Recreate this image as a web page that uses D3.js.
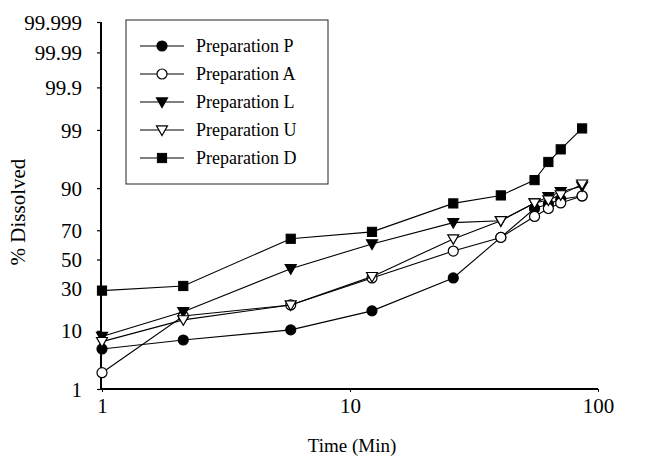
<!DOCTYPE html>
<html>
<head>
<meta charset="utf-8">
<script src="https://cdn.jsdelivr.net/npm/d3@7"></script>
<style>
  html, body { margin: 0; padding: 0; background: #fff; }
  svg { display: block; }
  text { font-family: "Liberation Serif", "Times New Roman", serif; fill: #000; }
</style>
</head>
<body>
<svg id="chart" width="659" height="466"></svg>
<script>
// ---- data ----
const times = [1, 2, 5, 10, 20, 30, 40, 45, 50, 60];
const seriesNames = ["Preparation P", "Preparation A", "Preparation L", "Preparation U", "Preparation D"];
const prepP = [5.4, 7.4, 10.3, 17.8, 37, 65.4, 82, 84, 86, 87.3];
const prepA = [2.1, 15.5, 20.7, 37, 56, 65.4, 78, 82, 84.5, 87.3];
const prepL = [8.3, 17.4, 43.4, 61, 74.6, 75.7, 84.5, 87, 88.8, 90.6];
const prepU = [7.0, 13.9, 20.7, 37.9, 64.4, 75.7, 84.5, 85.7, 87.7, 91.2];
const prepD = [28.8, 31.7, 64.5, 69, 84.3, 87.5, 92.3, 96, 97.6, 99.07];
const yTickValues = [1, 10, 30, 50, 70, 90, 99, 99.9, 99.99, 99.999];
const yTickLabels = ["1", "10", "30", "50", "70", "90", "99", "99.9", "99.99", "99.999"];
const xTickValues = [1, 10, 100];
const markerTypes = ["filledCircle", "openCircle", "filledTriDown", "openTriDown", "filledSquare"];

const seriesValues = [prepP, prepA, prepL, prepU, prepD];

// ---- inverse normal CDF (probit), Acklam's approximation ----
function probit(p) {
  const a = [-3.969683028665376e+01, 2.209460984245205e+02, -2.759285104469687e+02, 1.383577518672690e+02, -3.066479806614716e+01, 2.506628277459239e+00];
  const b = [-5.447609879822406e+01, 1.615858368580409e+02, -1.556989798598866e+02, 6.680131188771972e+01, -1.328068155288572e+01];
  const c = [-7.784894002430293e-03, -3.223964580411365e-01, -2.400758277161838e+00, -2.549732539343734e+00, 4.374664141464968e+00, 2.938163982698783e+00];
  const d = [7.784695709041462e-03, 3.224671290700398e-01, 2.445134137142996e+00, 3.754408661907416e+00];
  const pl = 0.02425, ph = 1 - pl;
  let q, r;
  if (p < pl) {
    q = Math.sqrt(-2 * Math.log(p));
    return (((((c[0]*q+c[1])*q+c[2])*q+c[3])*q+c[4])*q+c[5]) / ((((d[0]*q+d[1])*q+d[2])*q+d[3])*q+1);
  } else if (p <= ph) {
    q = p - 0.5; r = q*q;
    return (((((a[0]*r+a[1])*r+a[2])*r+a[3])*r+a[4])*r+a[5])*q / (((((b[0]*r+b[1])*r+b[2])*r+b[3])*r+b[4])*r+1);
  } else {
    q = Math.sqrt(-2 * Math.log(1 - p));
    return -(((((c[0]*q+c[1])*q+c[2])*q+c[3])*q+c[4])*q+c[5]) / ((((d[0]*q+d[1])*q+d[2])*q+d[3])*q+1);
  }
}

// ---- scales ----
const yLin = d3.scaleLinear()
  .domain([probit(0.01), probit(0.99999)])
  .range([389, 22]);
function yScale(pct) { return yLin(probit(pct / 100)); }
yScale.range = () => yLin.range();
yScale.domain = () => [1, 99.999];
yScale.copy = () => yScale;

// axis labelling scale as printed, and the scale the points were plotted with
const xAxisScale = d3.scaleLog().domain([1, 100]).range([102, 598]);
const xScale = d3.scaleLog().domain([1, 100]).range([102, 642]);

const svg = d3.select("#chart");

// ---- axes ----
const yAxis = d3.axisLeft(yScale)
  .tickValues(yTickValues)
  .tickFormat((d, i) => yTickLabels[i])
  .tickSize(4)
  .tickPadding(15);
const gy = svg.append("g").attr("transform", "translate(101,0)").call(yAxis);
gy.select(".domain").attr("stroke", "#000").attr("stroke-width", 2).attr("d", "M0,22V389");
gy.selectAll(".tick line").attr("stroke", "#000").attr("stroke-width", 1.2);
gy.selectAll(".tick text").style("font-size", "21px").attr("dy", "0.34em");

const xAxis = d3.axisBottom(xAxisScale)
  .tickValues(xTickValues)
  .tickFormat(d3.format("d"))
  .tickSize(3)
  .tickPadding(6);
const gx = svg.append("g").attr("transform", "translate(0,389)").call(xAxis);
gx.select(".domain").attr("stroke", "#000").attr("stroke-width", 2).attr("d", "M101,0H598");
gx.selectAll(".tick line").attr("stroke", "#000").attr("stroke-width", 1);
gx.selectAll(".tick text").style("font-size", "21px");

// axis titles
svg.append("text")
  .attr("transform", "translate(25,212) rotate(-90)")
  .attr("text-anchor", "middle")
  .style("font-size", "21px")
  .text("% Dissolved");
svg.append("text")
  .attr("x", 352).attr("y", 452)
  .attr("text-anchor", "middle")
  .style("font-size", "19px")
  .text("Time (Min)");

// ---- markers ----
function drawMarker(sel, type, x, y) {
  if (type === "filledCircle" || type === "openCircle") {
    sel.append("circle").attr("cx", x).attr("cy", y).attr("r", 5)
      .attr("fill", type === "filledCircle" ? "#000" : "#fff")
      .attr("stroke", "#000").attr("stroke-width", 1.2);
  } else if (type === "filledTriDown" || type === "openTriDown") {
    const s = 5.5;
    sel.append("path")
      .attr("d", `M${x - s},${y - s * 0.75}L${x + s},${y - s * 0.75}L${x},${y + s}Z`)
      .attr("fill", type === "filledTriDown" ? "#000" : "#fff")
      .attr("stroke", "#000").attr("stroke-width", 1.2);
  } else {
    const s = 4.6;
    sel.append("rect").attr("x", x - s).attr("y", y - s).attr("width", 2 * s).attr("height", 2 * s)
      .attr("fill", "#000").attr("stroke", "#000").attr("stroke-width", 1);
  }
}

// ---- series ----
const line = d3.line().x(d => xScale(d[0])).y(d => yScale(d[1]));
seriesValues.forEach((vals, si) => {
  const pts = times.map((t, i) => [t, vals[i]]);
  const g = svg.append("g");
  g.append("path").attr("d", line(pts)).attr("fill", "none").attr("stroke", "#000").attr("stroke-width", 1.1);
  pts.forEach(p => drawMarker(g, markerTypes[si], xScale(p[0]), yScale(p[1])));
});

// ---- legend ----
const legend = svg.append("g");
legend.append("rect").attr("x", 126).attr("y", 20).attr("width", 202).attr("height", 164)
  .attr("fill", "#fff").attr("stroke", "#222").attr("stroke-width", 1);
const rowY = d3.scaleLinear().domain([0, 4]).range([46, 158]);
seriesNames.forEach((name, i) => {
  const y = rowY(i);
  legend.append("line").attr("x1", 140).attr("x2", 184).attr("y1", y).attr("y2", y)
    .attr("stroke", "#000").attr("stroke-width", 1.2);
  drawMarker(legend, markerTypes[i], 162, y);
  legend.append("text").attr("x", 196).attr("y", y).attr("dy", "0.35em")
    .style("font-size", "18px").text(name);
});
</script>
</body>
</html>
